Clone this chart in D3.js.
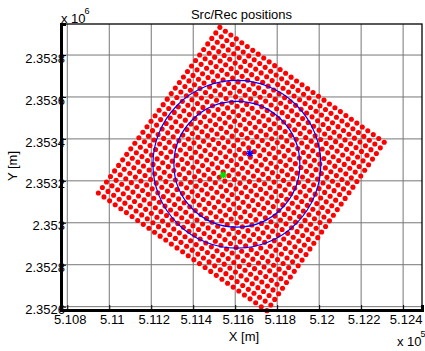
<!DOCTYPE html>
<html>
<head>
<meta charset="utf-8">
<script src="https://cdn.jsdelivr.net/npm/d3@7"></script>
<style>
  html, body { margin: 0; padding: 0; background: #fff; }
  svg { display: block; font-family: "Liberation Sans", Arial, sans-serif; }
</style>
</head>
<body>
<svg id="chart" width="425" height="351"></svg>
<script>
// Axis ticks (metres) and their labels, shown in units of 1e5 / 1e6
const xTickValues = [510800, 511000, 511200, 511400, 511600, 511800, 512000, 512200, 512400];
const xTickLabels = ["5.108", "5.11", "5.112", "5.114", "5.116", "5.118", "5.12", "5.122", "5.124"];
const yTickValues = [2352600, 2352800, 2353000, 2353200, 2353400, 2353600, 2353800];
const yTickLabels = ["2.3526", "2.3528", "2.353", "2.3532", "2.3534", "2.3536", "2.3538"];

// Receiver patch corners: left, top, right, bottom (X, Y in metres)
const receiverCorners = [
  [510948, 2353142],
  [511527, 2353932],
  [512310, 2353384],
  [511751, 2352581]
];
const receiversPerSide = 31;

// Source and reference points
const sourcePos = [511670, 2353331];
const refPos = [511543, 2353228];

// Aperture circles around the mid point
const circleCenter = [511608, 2353279];
const circleRadii = [300, 400];

const xDomain = [510770, 512490];
const yDomain = [2352584, 2353948];

const svg = d3.select("#chart");
const L = 61, R = 422, T = 24, B = 310;

const x = d3.scaleLinear().domain(xDomain).range([L, R]);
const y = d3.scaleLinear().domain(yDomain).range([B, T]);

// grid lines
const grid = svg.append("g").attr("stroke", "#777").attr("stroke-width", 1);
grid.selectAll("line.gx").data(xTickValues).join("line")
  .attr("x1", d => x(d)).attr("x2", d => x(d)).attr("y1", T).attr("y2", B);
grid.selectAll("line.gy").data(yTickValues).join("line")
  .attr("x1", L).attr("x2", R).attr("y1", d => y(d)).attr("y2", d => y(d));

// receiver grid nodes laid out across the rotated patch
const [cL, cT, cR, cB] = receiverCorners;
const receivers = [];
const n = receiversPerSide - 1;
for (let i = 0; i <= n; i++) {
  for (let j = 0; j <= n; j++) {
    const u = i / n, v = j / n;
    const px = cL[0] + u * (cT[0] - cL[0]) + v * (cB[0] - cL[0]) + u * v * (cR[0] - cT[0] - cB[0] + cL[0]);
    const py = cL[1] + u * (cT[1] - cL[1]) + v * (cB[1] - cL[1]) + u * v * (cR[1] - cT[1] - cB[1] + cL[1]);
    receivers.push([px, py]);
  }
}
svg.append("g").attr("fill", "#ff0000")
  .selectAll("circle").data(receivers).join("circle")
  .attr("cx", d => x(d[0])).attr("cy", d => y(d[1])).attr("r", 2.55);

// aperture circles
svg.append("g").attr("fill", "none").attr("stroke", "#0000ff").attr("stroke-width", 1.2)
  .selectAll("ellipse").data(circleRadii).join("ellipse")
  .attr("cx", x(circleCenter[0])).attr("cy", y(circleCenter[1]))
  .attr("rx", r => x(circleCenter[0] + r) - x(circleCenter[0]))
  .attr("ry", r => y(circleCenter[1]) - y(circleCenter[1] + r));

// star markers
function star(g, pos, color) {
  const cx = x(pos[0]), cy = y(pos[1]), s = 3.5, d = 2.6;
  const m = g.append("g").attr("stroke", color).attr("stroke-width", 1.6);
  m.append("line").attr("x1", cx - s).attr("x2", cx + s).attr("y1", cy).attr("y2", cy);
  m.append("line").attr("x1", cx).attr("x2", cx).attr("y1", cy - s).attr("y2", cy + s);
  m.append("line").attr("x1", cx - d).attr("x2", cx + d).attr("y1", cy - d).attr("y2", cy + d);
  m.append("line").attr("x1", cx - d).attr("x2", cx + d).attr("y1", cy + d).attr("y2", cy - d);
}
star(svg, sourcePos, "#0000ff");
star(svg, refPos, "#00dd00");

// frame
svg.append("rect").attr("x", L).attr("y", T).attr("width", R - L).attr("height", B - T)
  .attr("fill", "none").attr("stroke", "#000").attr("stroke-width", 1.3);

// axes
const xAxis = d3.axisBottom(x).tickValues(xTickValues)
  .tickFormat((d, i) => xTickLabels[i]).tickSize(-5).tickPadding(5);
const gx = svg.append("g").attr("transform", `translate(0,${B})`).call(xAxis);
gx.select(".domain").attr("stroke-width", 3);
gx.selectAll("text").attr("font-size", 13).attr("fill", "#000")
  .attr("font-family", "Liberation Sans, Arial, sans-serif").attr("dx", 2.5);

const yAxis = d3.axisLeft(y).tickValues(yTickValues)
  .tickFormat((d, i) => yTickLabels[i]).tickSize(-5).tickPadding(-4);
const gy = svg.append("g").attr("transform", `translate(${L},0)`).call(yAxis);
gy.select(".domain").attr("stroke-width", 3);
gy.selectAll("text").attr("font-size", 13).attr("fill", "#000")
  .attr("font-family", "Liberation Sans, Arial, sans-serif").attr("dy", "0.55em");

// texts
svg.append("text").attr("x", (L + R) / 2).attr("y", 18.5).attr("text-anchor", "middle")
  .attr("font-size", 13).text("Src/Rec positions");
svg.append("text").attr("x", 244).attr("y", 341).attr("text-anchor", "middle")
  .attr("font-size", 13).text("X [m]");
svg.append("text").attr("transform", "translate(16.5,166) rotate(-90)").attr("text-anchor", "middle")
  .attr("font-size", 13).text("Y [m]");

const e6 = svg.append("text").attr("x", 61).attr("y", 22.5).attr("font-size", 13);
e6.append("tspan").text("x 10");
e6.append("tspan").attr("font-size", 9).attr("dy", -9).attr("dx", -1).text("6");
const e5 = svg.append("text").attr("x", 397).attr("y", 346).attr("font-size", 13);
e5.append("tspan").text("x 10");
e5.append("tspan").attr("font-size", 9).attr("dy", -9).attr("dx", -1).text("5");
</script>
</body>
</html>
